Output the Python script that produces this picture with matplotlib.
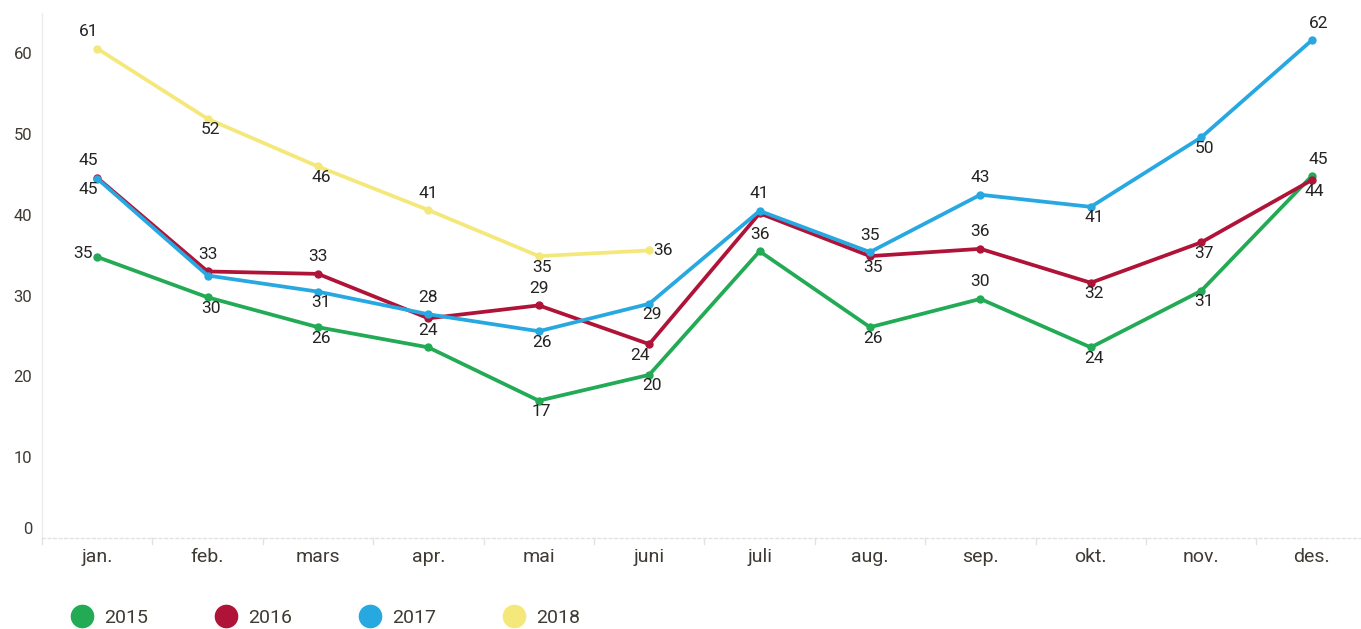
import matplotlib.pyplot as plt
from matplotlib.lines import Line2D
from matplotlib.transforms import ScaledTranslation
import numpy as np

plt.rcParams['font.family'] = ['Roboto', 'DejaVu Sans']

# ---------- data ----------
months = ["jan.", "feb.", "mars", "apr.", "mai", "juni", "juli", "aug.", "sep.", "okt.", "nov.", "des."]
years = ["2015", "2016", "2017", "2018"]

v2015 = [34.8, 29.8, 26.1, 23.6, 17.0, 20.2, 35.5, 26.1, 29.6, 23.6, 30.6, 44.8]
v2016 = [44.6, 33.0, 32.7, 27.2, 28.8, 24.0, 40.2, 34.9, 35.8, 31.6, 36.6, 44.3]
v2017 = [44.5, 32.5, 30.5, 27.7, 25.6, 29.0, 40.5, 35.4, 42.5, 41.0, 49.6, 61.6]
v2018 = [60.6, 51.9, 46.0, 40.6, 34.9, 35.6]

# where each data label sits: a=above, b=below, l=left, r=right, -=hidden
pos2015 = ['l', 'b', 'b', 'a', 'b', 'b', 'a', 'b', 'a', 'b', 'b', 'ar']
pos2016 = ['al', 'a', 'a', '-', 'a', 'bl', '-', 'b', 'a', 'b', 'b', 'b']
pos2017 = ['bl', '-', 'b', 'a', 'b', 'b', 'a', 'a', 'a', 'b', 'b', 'ar']
pos2018 = ['al', 'b', 'b', 'a', 'b', 'r']

colors = ["#22AA55", "#B01338", "#27A8E0", "#F5E87A"]
series = [v2015, v2016, v2017, v2018]
label_pos = [pos2015, pos2016, pos2017, pos2018]

# offsets in pixels (dx, dy)
offsets = {'a': (0, 17), 'al': (-9, 17), 'ar': (7, 17), 'b': (3, -11),
           'bl': (-9, -11), 'l': (-14, 3), 'r': (14, 0)}

fig = plt.figure(figsize=(13.61, 6.29), dpi=100)
ax = fig.add_axes([42 / 1361, (629 - 538) / 629, (1361 - 42) / 1361, (538 - 13) / 629])

text_col = "#252423"
tick_col = "#3F3B33"

# 2018 first so the others sit on top
for i in [3, 2, 1, 0]:
    vals = series[i]
    x = np.arange(len(vals))
    ax.plot(x, vals, color=colors[i], lw=2.7, marker='o', markersize=5,
            solid_capstyle='round', zorder=3 + i * 0.1)

for i in range(4):
    vals = series[i]
    for j, v in enumerate(vals):
        p = label_pos[i][j]
        if p == '-':
            continue
        dx, dy = offsets[p]
        ax.annotate(f"{int(np.floor(v + 0.5))}", (j, v), xytext=(dx * 0.72, dy * 0.72),
                    textcoords='offset points', ha='center', va='center',
                    fontsize=12.5, color=text_col, zorder=6)

ax.set_xlim(-0.5, -0.5 + 1319 / 110.4)
ax.set_ylim(0, 65)
ax.set_yticks([0, 10, 20, 30, 40, 50, 60])
ax.set_xticks(range(len(months)))
ax.set_xticklabels(months)

ax.tick_params(axis='y', length=0, pad=7, labelsize=12, labelcolor=tick_col)
ax.tick_params(axis='x', length=0, pad=7, labelsize=14, labelcolor=tick_col)

# zero label sits a little above the baseline in the original
zl = ax.get_yticklabels()[0]
zl.set_transform(zl.get_transform() + ScaledTranslation(0, 10 / 100, fig.dpi_scale_trans))

for s in ['top', 'right']:
    ax.spines[s].set_visible(False)
ax.spines['left'].set_color('#EBEBEB')
ax.spines['left'].set_linewidth(1)
ax.spines['bottom'].set_color('#E2E2E2')
ax.spines['bottom'].set_linestyle((0, (2, 2)))
ax.spines['bottom'].set_linewidth(1)

# small separators between month bands under the axis
for b in np.arange(-0.5, len(months), 1.0):
    ax.plot([b, b], [0, -0.8], color='#E2E2E2', lw=1, clip_on=False, zorder=1)

handles = [Line2D([], [], ls='none', marker='o', markersize=16, color=c) for c in colors]
fig.legend(handles, years, loc='center left', bbox_to_anchor=(0.033, (629 - 618) / 629),
           ncol=4, frameon=False, fontsize=14, handletextpad=0.15, columnspacing=3.0,
           labelcolor=tick_col)

fig.savefig("out.png", dpi=100)
